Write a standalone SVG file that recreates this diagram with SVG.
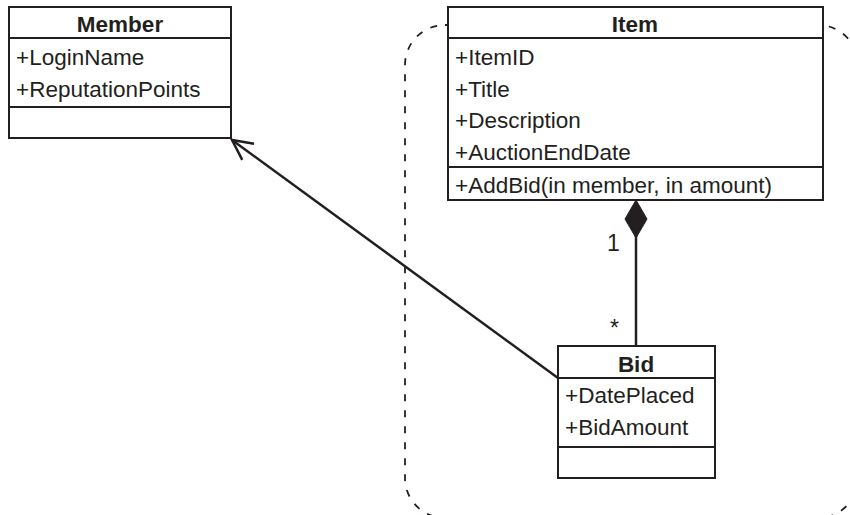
<svg xmlns="http://www.w3.org/2000/svg" width="850" height="515" viewBox="0 0 850 515">
  <style>
    .box { fill: #ffffff; stroke: #231f20; stroke-width: 2; }
    .sep { stroke: #231f20; stroke-width: 2; fill: none; }
    .title { font-family: "Liberation Sans", Arial, sans-serif; font-size: 22.5px; font-weight: bold; fill: #231f20; text-anchor: middle; }
    .attr { font-family: "Liberation Sans", Arial, sans-serif; font-size: 22.5px; fill: #231f20; }
    .mult { font-family: "Liberation Sans", Arial, sans-serif; font-size: 23px; fill: #231f20; }
    .edge { stroke: #231f20; stroke-width: 2.5; fill: none; }
    .boundary { stroke: #231f20; stroke-width: 1.8; fill: none; stroke-dasharray: 7 9; }
  </style>
  <defs>
    <marker id="openArrow" viewBox="0 0 24 24" refX="22" refY="12" markerWidth="24" markerHeight="24" markerUnits="userSpaceOnUse" orient="auto">
      <path d="M2 2 L22 12 L2 22" fill="none" stroke="#231f20" stroke-width="2.5"/>
    </marker>
  </defs>

  <rect width="850" height="515" fill="#ffffff"/>

  <!-- aggregate boundary around Item and Bid -->
  <rect class="boundary" x="405" y="25" width="453" height="493" rx="40" ry="40"/>

  <g id="connectors">
    <!-- Bid to Member association -->
    <line class="edge" x1="558" y1="378" x2="232" y2="140" marker-end="url(#openArrow)"/>
    <!-- Item composes Bid -->
    <line class="edge" x1="636" y1="236" x2="636" y2="346"/>
    <path d="M636 200 L647 219 L636 238 L625 219 Z" fill="#231f20" stroke="#231f20" stroke-width="1"/>
    <text class="mult" x="607" y="251">1</text>
    <text class="mult" x="610" y="336">*</text>
  </g>

  <g id="member">
    <rect class="box" x="9" y="7" width="222" height="131"/>
    <line class="sep" x1="9" y1="38" x2="231" y2="38"/>
    <line class="sep" x1="9" y1="107" x2="231" y2="107"/>
    <text class="title" x="120" y="32">Member</text>
    <text class="attr" x="16" y="65">+LoginName</text>
    <text class="attr" x="16" y="97">+ReputationPoints</text>
  </g>

  <g id="item">
    <rect class="box" x="448" y="7" width="375" height="193"/>
    <line class="sep" x1="448" y1="38" x2="823" y2="38"/>
    <line class="sep" x1="448" y1="167" x2="823" y2="167"/>
    <text class="title" x="635" y="32">Item</text>
    <text class="attr" x="455" y="65">+ItemID</text>
    <text class="attr" x="455" y="97">+Title</text>
    <text class="attr" x="455" y="128">+Description</text>
    <text class="attr" x="455" y="160">+AuctionEndDate</text>
    <text class="attr" x="455" y="193">+AddBid(in member, in amount)</text>
  </g>

  <g id="bid">
    <rect class="box" x="558" y="346" width="157" height="132"/>
    <line class="sep" x1="558" y1="378" x2="715" y2="378"/>
    <line class="sep" x1="558" y1="447" x2="715" y2="447"/>
    <text class="title" x="636" y="372">Bid</text>
    <text class="attr" x="565" y="403">+DatePlaced</text>
    <text class="attr" x="565" y="435">+BidAmount</text>
  </g>
</svg>
